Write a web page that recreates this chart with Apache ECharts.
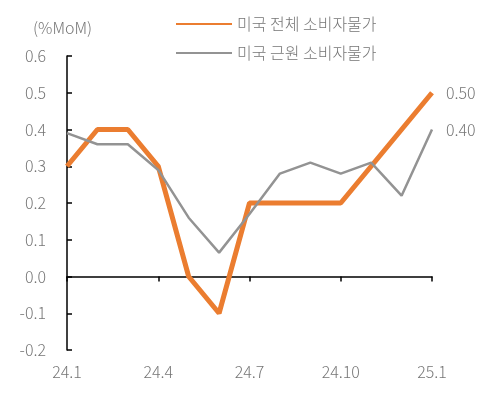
<!DOCTYPE html>
<html><head><meta charset="utf-8">
<script src="https://cdn.jsdelivr.net/npm/echarts@6/dist/echarts.min.js"></script>
<style>html,body{margin:0;padding:0;background:#fff}#c{width:498px;height:393px}</style>
</head><body><div id="c"></div>
<script>
const categories = ['24.1','24.2','24.3','24.4','24.5','24.6','24.7','24.8','24.9','24.10','24.11','24.12','25.1'];
const headlineCPI = [0.3, 0.4, 0.4, 0.3, 0.0, -0.1, 0.2, 0.2, 0.2, 0.2, 0.3, 0.4, 0.5];
const coreCPI = [0.39, 0.36, 0.36, 0.29, 0.16, 0.065, 0.17, 0.28, 0.31, 0.28, 0.31, 0.22, 0.40];
const seriesNames = ['미국 전체 소비자물가', '미국 근원 소비자물가'];
const yMin = -0.2, yMax = 0.6, yStep = 0.1;
const unitLabel = '(%MoM)';

const FONT = "'Noto Sans CJK KR', 'Noto Sans', sans-serif";
const TXT = '#767676';
const FS = 16;
const chart = echarts.init(document.getElementById('c'), null, {renderer: 'canvas'});
chart.setOption({
  animation: false,
  textStyle: {fontFamily: FONT},
  title: {text: unitLabel, left: 28, top: 15, textStyle: {fontFamily: FONT, fontSize: FS, fontWeight: 300, color: TXT}},
  legend: {
    orient: 'vertical', left: 170, top: 11, itemWidth: 56, itemHeight: 14, itemGap: 13,
    itemStyle: {opacity: 0},
    textStyle: {fontFamily: FONT, fontSize: FS, fontWeight: 300, color: TXT},
    data: seriesNames
  },
  grid: {left: 67, right: 66, top: 56, bottom: 43},
  xAxis: [
    {type: 'category', data: categories, boundaryGap: false, position: 'bottom',
     axisLine: {show: false, onZero: false}, axisTick: {show: false},
     axisLabel: {interval: 2, margin: 14, fontSize: FS, fontWeight: 300, color: TXT, fontFamily: FONT}},
    {type: 'category', data: categories, boundaryGap: false, position: 'top',
     axisLine: {show: true, onZero: true, onZeroAxisIndex: 0, lineStyle: {color: '#000', width: 1.5}},
     axisTick: {show: true, inside: true, interval: 2, length: 5, lineStyle: {color: '#000', width: 1.5}},
     axisLabel: {show: false}}
  ],
  yAxis: {
    type: 'value', min: yMin, max: yMax, interval: yStep,
    axisLine: {show: true, onZero: false, lineStyle: {color: '#000', width: 1.5}},
    axisTick: {show: true, inside: true, length: 5, lineStyle: {color: '#000', width: 1.5}},
    splitLine: {show: false},
    axisLabel: {margin: 21, fontSize: FS, fontWeight: 300, color: TXT, fontFamily: FONT, formatter: v => v.toFixed(1)}
  },
  series: [
    {name: seriesNames[0], type: 'line', data: headlineCPI, symbol: 'none', xAxisIndex: 0,
     lineStyle: {color: '#EB7D30', width: 5}, itemStyle: {color: '#EB7D30'},
     endLabel: {show: true, distance: 14, fontSize: FS, fontWeight: 300, color: TXT, fontFamily: FONT, formatter: p => Number(p.value).toFixed(2)}},
    {name: seriesNames[1], type: 'line', data: coreCPI, symbol: 'none', xAxisIndex: 0,
     lineStyle: {color: '#939393', width: 2.5}, itemStyle: {color: '#939393'},
     endLabel: {show: true, distance: 14, fontSize: FS, fontWeight: 300, color: TXT, fontFamily: FONT, formatter: p => Number(p.value).toFixed(2)}}
  ]
});
</script></body></html>
